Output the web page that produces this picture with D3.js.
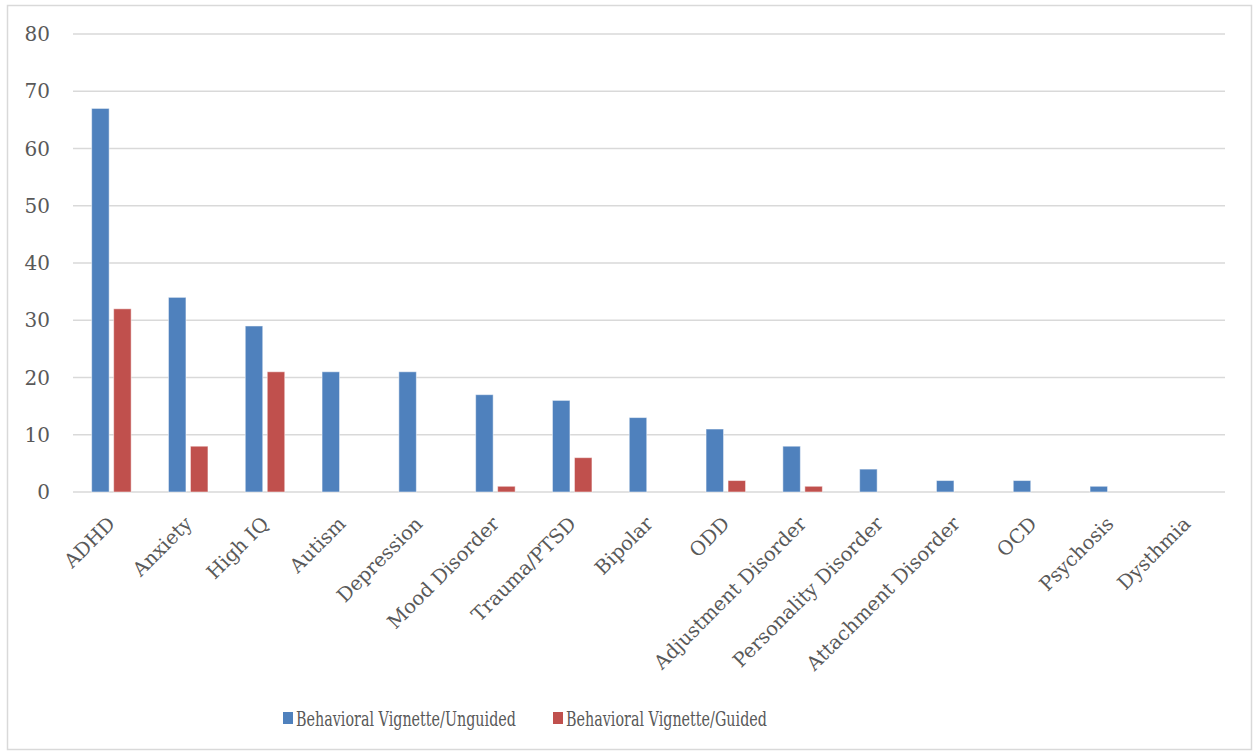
<!DOCTYPE html>
<html><head><meta charset="utf-8">
<script src="https://cdn.jsdelivr.net/npm/d3@7"></script>
<style>body{margin:0;background:#fff;}</style>
</head><body>
<svg id="c" width="1253" height="752"></svg>
<script>
const categories = ["ADHD","Anxiety","High IQ","Autism","Depression","Mood Disorder","Trauma/PTSD","Bipolar","ODD","Adjustment Disorder","Personality Disorder","Attachment Disorder","OCD","Psychosis","Dysthmia"];
const unguided = [67,34,29,21,21,17,16,13,11,8,4,2,2,1,0];
const guided = [32,8,21,0,0,1,6,0,2,1,0,0,0,0,0];
const seriesNames = ["Behavioral Vignette/Unguided","Behavioral Vignette/Guided"];
const colors = ["#4F81BD","#C0504D"];
const yTicks = [0,10,20,30,40,50,60,70,80];

const FONT = "DejaVu Serif, serif";
const svg = d3.select("#c");
svg.append("rect").attr("x",7.5).attr("y",5.5).attr("width",1244).attr("height",744)
  .attr("fill","#fff").attr("stroke","#d9d9d9").attr("stroke-width",1.5);

const x0 = d3.scaleBand().domain(categories).range([73,1225]);
const y = d3.scaleLinear().domain([0,80]).range([492,34]);
const series = [unguided, guided];

const g = svg.append("g").attr("font-family",FONT).attr("fill","#595959");
g.selectAll("line.grid").data(yTicks).join("line")
  .attr("x1",73).attr("x2",1225).attr("y1",d=>y(d)).attr("y2",d=>y(d))
  .attr("stroke","#d9d9d9").attr("stroke-width",1.5);
g.selectAll("text.yt").data(yTicks).join("text")
  .attr("x",50).attr("y",d=>y(d)).attr("dy","0.36em").attr("text-anchor","end")
  .attr("font-size",20).text(d=>d);

const bw = 17.5, gap = 4.5;
series.forEach((vals,si)=>{
  g.selectAll("rect.s"+si).data(vals).join("rect")
    .attr("x",(d,i)=>x0(categories[i]) + x0.bandwidth()/2 + (si===0 ? -(bw+gap/2) : gap/2))
    .attr("y",d=>y(d)).attr("width",bw).attr("height",d=>y(0)-y(d))
    .attr("fill",colors[si]).attr("stroke","#ffffff").attr("stroke-opacity",0.5).attr("stroke-width",1);
});

g.selectAll("text.xl").data(categories).join("text")
  .attr("transform",d=>`translate(${x0(d)+x0.bandwidth()/2+5},${525}) rotate(-45)`)
  .attr("text-anchor","end").attr("font-size",19.5).text(d=>d);

const leg = svg.append("g").attr("font-family",FONT).attr("fill","#595959");
const lx = [283,553];
const lw = [220,201];
seriesNames.forEach((n,i)=>{
  leg.append("rect").attr("x",lx[i]).attr("y",712).attr("width",10).attr("height",12).attr("fill",colors[i]);
  const tg = leg.append("g");
  const t = tg.append("text").attr("x",0).attr("y",0).attr("font-size",21).text(n);
  const natural = t.node().getComputedTextLength();
  tg.attr("transform",`translate(${lx[i]+13},726) scale(${lw[i]/natural},1)`);
});
</script>
</body></html>
